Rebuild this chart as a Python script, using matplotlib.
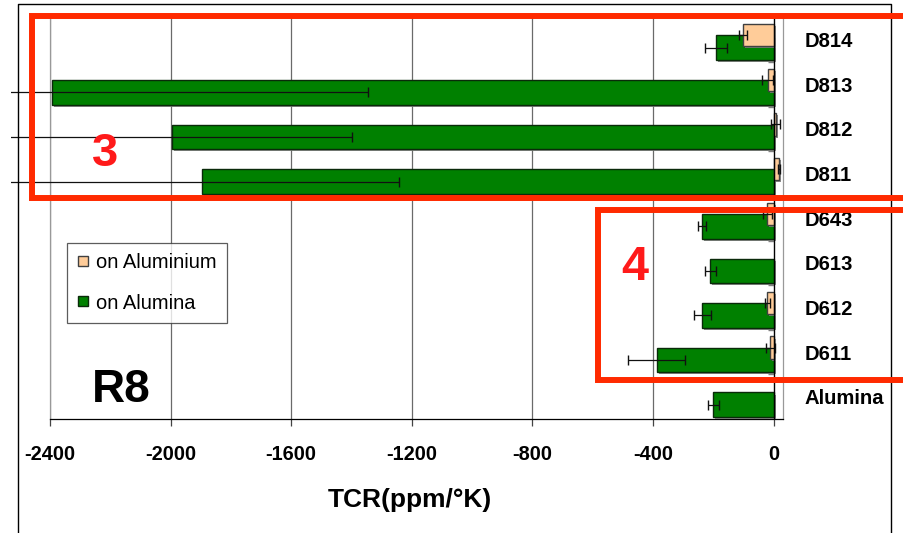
import numpy as np
import matplotlib
matplotlib.use("Agg")
import matplotlib.pyplot as plt
from matplotlib.lines import Line2D
from matplotlib.patches import Rectangle
import matplotlib.patheffects as pe

plt.rcParams['font.family'] = ['Liberation Sans', 'DejaVu Sans']

categories = ['D814', 'D813', 'D812', 'D811', 'D643', 'D613', 'D612', 'D611', 'Alumina']
on_aluminium = [-101, -20, 7, 18, -21, np.nan, -21, -11, np.nan]
on_aluminium_err = [13, 18, 15, 3, 15, np.nan, 8, 16, np.nan]
on_alumina = [-191, -2392, -1996, -1896, -237, -210, -237, -388, -200]
on_alumina_err = [37, 1048, 599, 652, 14, 18, 28, 95, 18]
xticks = [-2400, -2000, -1600, -1200, -800, -400, 0]

W, H = 904, 533
fig = plt.figure(figsize=(W / 100, H / 100), dpi=100)

def fx(px):
    return px / W

def fy(py):
    return 1 - py / H

ax_left, ax_right, ax_top, ax_bot = 50, 783.3, 17.4, 419
ax = fig.add_axes([fx(ax_left), fy(ax_bot), (ax_right - ax_left) / W, (ax_bot - ax_top) / H])

y = np.arange(len(categories))
green = '#008000'
peach = '#FFCC99'
shadow = [pe.SimplePatchShadow(offset=(1.5, -1.5), shadow_rgbFace='#7f7f7f', alpha=0.9), pe.Normal()]

gb = ax.barh(y + 0.18, on_alumina, height=0.55, color=green, edgecolor='#0a2a0a', linewidth=1.0, zorder=3)
for p in gb:
    p.set_path_effects(shadow)
pb = ax.barh(y - 0.10, on_aluminium, height=0.50, color=peach, edgecolor='#404040', linewidth=1.0, zorder=4)
for p in pb:
    p.set_path_effects(shadow)

clip_rect = Rectangle((11, 0), W, H, transform=None, visible=False)
fig.add_artist(clip_rect)
eb1 = ax.errorbar(on_alumina, y + 0.18, xerr=on_alumina_err, fmt='none', ecolor='#111111',
                  elinewidth=0.9, capsize=3.5, capthick=1.0, zorder=5)
eb2 = ax.errorbar(on_aluminium, y - 0.10, xerr=on_aluminium_err, fmt='none', ecolor='#111111',
                  elinewidth=0.9, capsize=3.5, capthick=1.0, zorder=5)
for eb in (eb1, eb2):
    for art in list(eb.lines[1]) + list(eb.lines[2]):
        art.set_clip_on(True)
        art.set_clip_path(clip_rect)

ax.set_xlim(-2400, 32)
ax.set_ylim(len(categories) - 0.5, -0.5)

ax.set_xticks(xticks)
ax.set_xticklabels([str(t) for t in xticks], fontsize=14.4, fontweight='bold')
ax.tick_params(axis='x', direction='out', length=5, width=0.9, color='#444444', pad=14)
ax.grid(axis='x', color='#6a6a6a', linewidth=0.9, zorder=0)
ax.set_axisbelow(True)

ax.yaxis.tick_right()
ax.set_yticks(y)
ax.set_yticklabels(categories, fontsize=14.6, fontweight='bold')
ax.tick_params(axis='y', length=0, pad=15)

# category boundary tick marks on the value-zero axis
ax.hlines(np.arange(-0.5, len(categories) + 0.5, 1), -20, 0, color='#808080', linewidth=1.0, zorder=6)
ax.axvline(0, color='black', linewidth=0.9, zorder=6)

for s in ['left', 'right', 'top']:
    ax.spines[s].set_color('#999999')
    ax.spines[s].set_linewidth(0.9)
ax.spines['bottom'].set_color('black')
ax.spines['bottom'].set_linewidth(0.9)

ax.set_xlabel('TCR(ppm/°K)', fontsize=19, fontweight='bold', va='center')
ax.xaxis.set_label_coords((409.5 - ax_left) / (ax_right - ax_left), (ax_bot - 500) / (ax_bot - ax_top))

handles = [Line2D([], [], marker='s', ls='', markersize=6.5, markerfacecolor=peach, markeredgecolor='#404040'),
           Line2D([], [], marker='s', ls='', markersize=6.5, markerfacecolor=green, markeredgecolor='#0a2a0a')]
leg = ax.legend(handles, ['on Aluminium', 'on Alumina'], loc='upper left',
                bbox_to_anchor=(fx(67), fy(243.3)), bbox_transform=fig.transFigure,
                fontsize=14.5, frameon=True, fancybox=False, borderaxespad=0,
                handlelength=0.6, handletextpad=0.35, borderpad=0.5, labelspacing=1.05)
leg.get_frame().set_edgecolor('#333333')
leg.get_frame().set_linewidth(0.9)
leg.set_zorder(7)

ax.text((121 - ax_left) / (ax_right - ax_left), (ax_bot - 390) / (ax_bot - ax_top), 'R8',
        transform=ax.transAxes, fontsize=33, fontweight='bold', ha='center', va='center', zorder=7)

fig.text(fx(105), fy(154), '3', color='#ff1a1a', fontsize=34, fontweight='bold', ha='center', va='center', zorder=10)
fig.text(fx(635), fy(268), '4', color='#ff1a1a', fontsize=35, fontweight='bold', ha='center', va='center', zorder=10)

red = '#ff2a00'
lw_red = 4.3
for (l, t, b) in [(32, 16, 198), (598, 209.5, 379.5)]:
    fig.add_artist(Line2D([fx(W + 20), fx(l), fx(l), fx(W + 20)], [fy(t), fy(t), fy(b), fy(b)],
                          transform=fig.transFigure, color=red, linewidth=lw_red, zorder=20,
                          solid_joinstyle='miter'))

fig.add_artist(Line2D([fx(18), fx(18), fx(891.5), fx(891.5)], [fy(H + 5), fy(4.3), fy(4.3), fy(H + 5)],
                      transform=fig.transFigure, color='black', linewidth=1.0, zorder=15))

fig.savefig('out.png', dpi=100)
